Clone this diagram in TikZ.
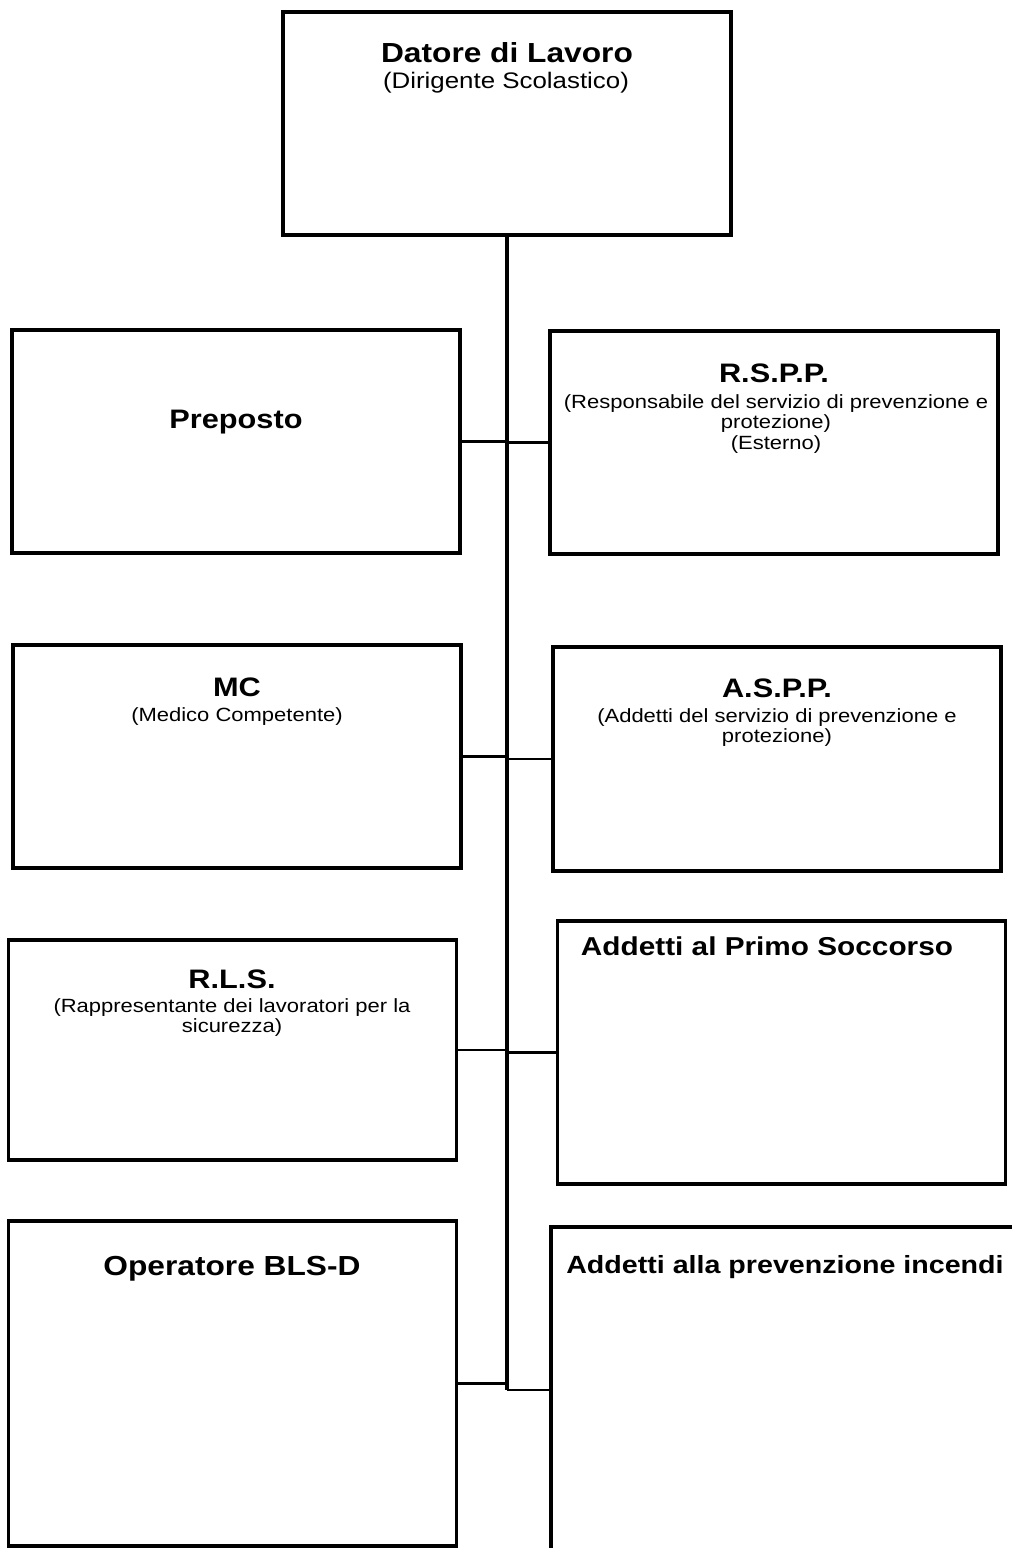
\documentclass[tikz,border=0pt]{standalone}
\usepackage{fontspec}
\setmainfont{Liberation Sans}[FakeStretch=1.15]
\usetikzlibrary{positioning,calc}
\tikzstyle{ruolo} = [rectangle, draw=black, line width=2.4pt, minimum width=11.2cm, minimum height=5.575cm, inner sep=0pt]
\tikzstyle{titolo} = [anchor=base, inner sep=0pt, font=\fontsize{19}{22}\selectfont\bfseries]
\tikzstyle{nota} = [anchor=north, inner sep=0pt, align=center, font=\fontsize{13.6}{14.8}\selectfont]
\tikzstyle{linea} = [line width=1.8pt]

\begin{document}
\begin{tikzpicture}[x=0.025cm, y=-0.025cm]
        \useasboundingbox (0,0) rectangle (1012,1548);
        \clip (0,0) rectangle (1012,1548);

        % Blocchi
        \node (datore) [ruolo] at (507,123.5) {};
        \node (preposto) [ruolo] at (236,441.5) {};
        \node (rspp) [ruolo] at (774,442.5) {};
        \node (mc) [ruolo] at (237,756.5) {};
        \node (aspp) [ruolo, minimum height=5.6cm] at (777,759) {};
        \node (rls) [ruolo, minimum height=5.5cm] at (232.5,1050) {};
        \node (primo) [ruolo, minimum height=6.575cm] at (781.5,1052.5) {};
        \node (bls) [ruolo, minimum height=8.125cm] at (232.5,1383.5) {};
        \node (incendi) [ruolo, minimum width=14cm, minimum height=8.15cm] at (831,1390) {};

        % Testi
        \node (tdatore) [titolo, font=\fontsize{19.6}{22}\selectfont\bfseries] at (507,62) {Datore di Lavoro};
        \node (ndatore) [nota, font=\fontsize{16}{18}\selectfont] at (506,72) {(Dirigente Scolastico)};
        \node (tpreposto) [titolo] at (236,428) {Preposto};
        \node (trspp) [titolo] at (774,382) {R.S.P.P.};
        \node (nrspp) [nota] at (776,394) {(Responsabile del servizio di prevenzione e\\protezione)\\(Esterno)};
        \node (tmc) [titolo] at (237,696) {MC};
        \node (nmc) [nota] at (237,707) {(Medico Competente)};
        \node (taspp) [titolo] at (777,697) {A.S.P.P.};
        \node (naspp) [nota] at (777,708) {(Addetti del servizio di prevenzione e\\protezione)};
        \node (trls) [titolo] at (232,988) {R.L.S.};
        \node (nrls) [nota] at (232,998) {(Rappresentante dei lavoratori per la\\sicurezza)};
        \node (tprimo) [titolo, font=\fontsize{18.4}{22}\selectfont\bfseries] at (767,955) {Addetti al Primo Soccorso};
        \node (tbls) [titolo, font=\fontsize{19.6}{22}\selectfont\bfseries] at (232,1275) {Operatore BLS-D};
        \node (tincendi) [titolo, anchor=base west, font=\fontsize{17.7}{22}\selectfont\bfseries] at (566,1273) {Addetti alla prevenzione incendi};

        % Linee
        \draw [linea, line width=2.4pt] (datore.south) -- (datore.south |- incendi.west);
        \draw [linea] (preposto.east) -- (preposto.east -| datore.south);
        \draw [linea] (rspp.west) -- (rspp.west -| datore.south);
        \draw [linea] (mc.east) -- (mc.east -| datore.south);
        \draw [linea] (aspp.west) -- (aspp.west -| datore.south);
        \draw [linea] (rls.east) -- (rls.east -| datore.south);
        \draw [linea] (primo.west) -- (primo.west -| datore.south);
        \draw [linea] (bls.east) -- (bls.east -| datore.south);
        \draw [linea] (incendi.west) -- (incendi.west -| datore.south);
    \end{tikzpicture}
\end{document}
